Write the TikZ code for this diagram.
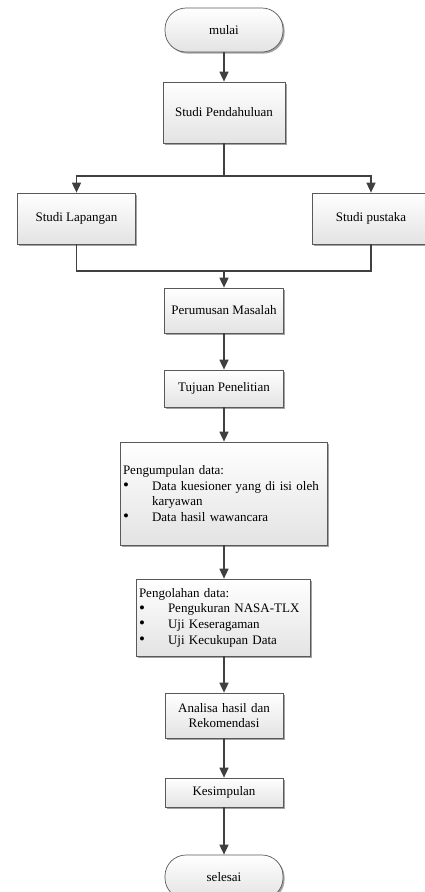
\documentclass[tikz,border=0pt]{standalone}
\usepackage{fontspec}
\setmainfont{Liberation Serif}
\usetikzlibrary{arrows.meta,shadows}
\newcommand{\bitem}[1]{\makebox[29pt][l]{\smash{\raisebox{-0.3pt}{\scalebox{1.3}{\textbullet}}}}#1}
\begin{document}
\begin{tikzpicture}[x=1pt,y=-1pt,
  font=\fontsize{13}{15.6}\selectfont,
  boxstyle/.style={draw=black!65, line width=0.7pt, top color=white, bottom color=black!11,
    drop shadow={shadow xshift=1.6pt, shadow yshift=-1.6pt, fill=black!45, opacity=0.8},
    inner sep=2pt, align=center},
  termstyle/.style={boxstyle, rounded corners=21pt},
  arr/.style={draw=black!75, line width=1.6pt, -{Triangle[width=9pt,length=10pt]}},
  ln/.style={draw=black!75, line width=1.6pt}]
\clip (0,0) rectangle (425,892);
\useasboundingbox (0,0) rectangle (425,892);

\node[termstyle, minimum width=118pt, minimum height=44pt] (mulai) at (224,30) {mulai};
\node[boxstyle, minimum width=122pt, minimum height=61pt] (pend) at (224,112.5) {Studi Pendahuluan};
\node[boxstyle, minimum width=118pt, minimum height=51pt] (lap) at (76.5,218.5) {Studi Lapangan};
\node[boxstyle, minimum width=118pt, minimum height=51pt] (pus) at (371,218.5) {Studi pustaka};
\node[boxstyle, minimum width=119pt, minimum height=45pt] (rum) at (224,310.5) {Perumusan Masalah};
\node[boxstyle, minimum width=119pt, minimum height=37pt] (tuj) at (224,388.5) {Tujuan Penelitian};
\node[boxstyle, minimum width=207pt, minimum height=103pt, text width=202pt, align=left] (kum) at (224,493.5)
  {Pengumpulan data:\\
   \bitem{Data kuesioner yang di isi oleh}\\
   \hspace*{29pt}karyawan\\
   \bitem{Data hasil wawancara}};
\node[boxstyle, minimum width=174pt, minimum height=77pt, text width=168pt, align=left] (ola) at (223,617.5)
  {Pengolahan data:\\
   \bitem{Pengukuran NASA-TLX}\\
   \bitem{Uji Keseragaman}\\
   \bitem{Uji Kecukupan Data}};
\node[boxstyle, minimum width=118pt, minimum height=45pt, text width=112pt] (ana) at (224,715.5) {Analisa hasil dan\\Rekomendasi};
\node[boxstyle, minimum width=118pt, minimum height=29pt] (kes) at (224,792.5) {Kesimpulan};
\node[termstyle, minimum width=118pt, minimum height=44pt] (sel) at (224,877) {selesai};

\coordinate (split) at (224,176);
\coordinate (join) at (224,271);

\draw[arr] (mulai) -- (pend);
\draw[ln] (pend.south) -- (split);
\draw[arr] (split) -| (lap.north);
\draw[arr] (split) -| (pus.north);
\draw[ln] (lap.south) |- (join);
\draw[ln] (pus.south) |- (join);
\draw[arr] (join) -- (rum.north);
\draw[arr] (rum) -- (tuj);
\draw[arr] (tuj) -- (kum);
\draw[arr] (kum.south) -- (kum.south |- ola.north);
\draw[arr] (ola.south -| ana.north) -- (ana.north);
\draw[arr] (ana) -- (kes);
\draw[arr] (kes) -- (sel);
\end{tikzpicture}
\end{document}
